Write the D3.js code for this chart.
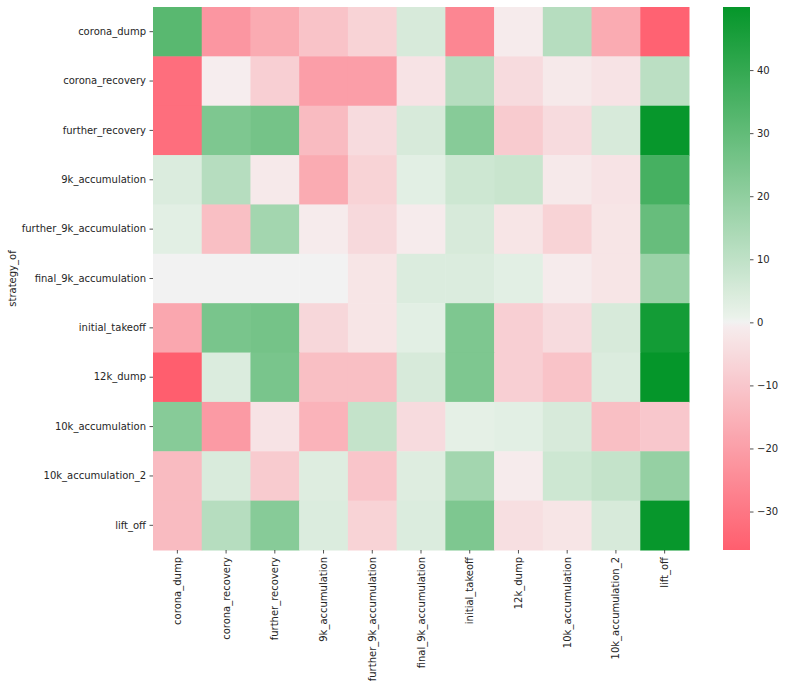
<!DOCTYPE html>
<html>
<head>
<meta charset="utf-8">
<script src="https://cdn.jsdelivr.net/npm/d3@7"></script>
<style>
  body { margin: 0; background: #fff; }
  text { font-family: "DejaVu Sans", sans-serif; }
</style>
</head>
<body>
<div id="vis"></div>
<script>
// labels (same order on both axes)
let strategies = [
    "corona_dump", "corona_recovery", "further_recovery", "9k_accumulation",
    "further_9k_accumulation", "final_9k_accumulation", "initial_takeoff",
    "12k_dump", "10k_accumulation", "10k_accumulation_2", "lift_off"
]

// one row per strategy_of
let corona_dump =             [ 32, -22, -17, -11,  -7,    5, -26,  -1,  12, -17, -35]
let corona_recovery =         [-32, -0.5, -8, -20, -20,   -3,  12,  -5, -1.5, -3,  11]
let further_recovery =        [-32,  24,  26, -13,  -5,    5,  22,  -9,  -5,   5,  49.5]
let acc_9k =                  [  4,  12, -1.5, -17,  -7,  2.5,   7,   8, -1.5, -3,  36]
let further_acc_9k =          [2.5, -12,  16,  -1, -5.5,  -1,   5, -2.5, -7, -2.5, 29]
let final_acc_9k =            [  0,   0,   0,   0, -2.5,   4,   4, 2.5,  -1, -2.5,  18]
let initial_takeoff =         [-18,  25,  26,  -6, -2.5, 2.5,  24,  -8,  -5,   5,  47]
let dump_12k =                [-36.1, 4,  25, -12, -12,    5,  24,  -8, -11,   4,  50]
let acc_10k =                 [ 22, -21,  -3, -15,   9,   -5,   2, 2.5,   5, -12, -10]
let acc_10k_2 =               [-13, 4.5,  -9, 3.5, -10.5, 3.5, 16,  -1,   7,   9,  19]
let lift_off =                [-13,  12,  22,   4,  -7,    4,  24,  -4, -2.5,  5, 49.5]

let rows = [corona_dump, corona_recovery, further_recovery, acc_9k, further_acc_9k,
    final_acc_9k, initial_takeoff, dump_12k, acc_10k, acc_10k_2, lift_off]

let cbarTicks = [-30, -20, -10, 0, 10, 20, 30, 40]

// flatten into cells
let cells = []
rows.forEach((r, i) => {
    r.forEach((v, j) => {
        cells.push({ row: strategies[i], col: strategies[j], value: v })
    })
})

let svgWidth = 785
let svgHeight = 689

let margin = { left: 153, top: 7 }
let width = 536
let height = 543

let svg = d3.select('#vis')
    .append('svg')
    .attr('width', svgWidth)
    .attr('height', svgHeight)

let g = svg.append('g')
    .attr('transform', `translate(${margin.left},${margin.top})`)

let vmin = d3.min(cells, d => d.value)
let vmax = d3.max(cells, d => d.value)

// diverging red-green palette centred on 0
let colorScale = d3.scaleLinear()
    .domain([vmin, -0.4, 0, 0.4, vmax])
    .range(["#ff5e6e", "#f6edee", "#f2f2f2", "#ecf3ec", "#05962a"])
    .interpolate(d3.interpolateRgb)
    .clamp(true)

let xScale = d3.scaleBand()
    .domain(strategies)
    .range([0, width])

let yScale = d3.scaleBand()
    .domain(strategies)
    .range([0, height])

g.selectAll('rect.cell')
    .data(cells)
    .join('rect')
        .attr('class', 'cell')
        .attr('x', d => xScale(d.col))
        .attr('y', d => yScale(d.row))
        .attr('width', xScale.bandwidth() + 0.5)
        .attr('height', yScale.bandwidth() + 0.5)
        .attr('fill', d => colorScale(d.value))

// axes
let xAxis = g.append('g')
    .attr('transform', `translate(0,${height})`)
    .call(d3.axisBottom(xScale).tickSize(3.5).tickPadding(3.5))

xAxis.selectAll('text')
    .attr('transform', 'rotate(-90)')
    .attr('text-anchor', 'end')
    .attr('x', -7)
    .attr('y', 0)
    .attr('dy', '0.35em')

let yAxis = g.append('g')
    .call(d3.axisLeft(yScale).tickSize(3.5).tickPadding(3.5))

;[xAxis, yAxis].forEach(a => {
    a.select('.domain').remove()
    a.selectAll('text').attr('font-size', 10).attr('fill', '#262626')
        .style('font-family', '"DejaVu Sans", sans-serif')
    a.selectAll('line').attr('stroke', '#262626').attr('stroke-width', 0.8)
})

svg.append('text')
    .attr('transform', `translate(12,${margin.top + height / 2}) rotate(-90)`)
    .attr('text-anchor', 'middle')
    .attr('dy', '0.35em')
    .attr('font-size', 10)
    .attr('fill', '#262626')
    .text('strategy_of')

// colorbar
let cbX = 723
let cbW = 27
let cbScale = d3.scaleLinear()
    .domain([vmin, vmax])
    .range([margin.top + height, margin.top])

let grad = svg.append('defs').append('linearGradient')
    .attr('id', 'cbar')
    .attr('x1', 0).attr('y1', 1).attr('x2', 0).attr('y2', 0)

d3.range(0, 1.0001, 0.01).forEach(t => {
    let v = vmin + t * (vmax - vmin)
    grad.append('stop')
        .attr('offset', t)
        .attr('stop-color', colorScale(v))
})

svg.append('rect')
    .attr('x', cbX)
    .attr('y', margin.top)
    .attr('width', cbW)
    .attr('height', height)
    .attr('fill', 'url(#cbar)')

let cbAxis = svg.append('g')
    .attr('transform', `translate(${cbX + cbW},0)`)
    .call(d3.axisRight(cbScale).tickValues(cbarTicks).tickSize(3.5).tickPadding(3.5)
        .tickFormat(d => d < 0 ? '\u2212' + Math.abs(d) : d))

cbAxis.select('.domain').remove()
cbAxis.selectAll('text').attr('font-size', 10).attr('fill', '#262626')
    .style('font-family', '"DejaVu Sans", sans-serif')
cbAxis.selectAll('line').attr('stroke', '#262626').attr('stroke-width', 0.8)
</script>
</body>
</html>
